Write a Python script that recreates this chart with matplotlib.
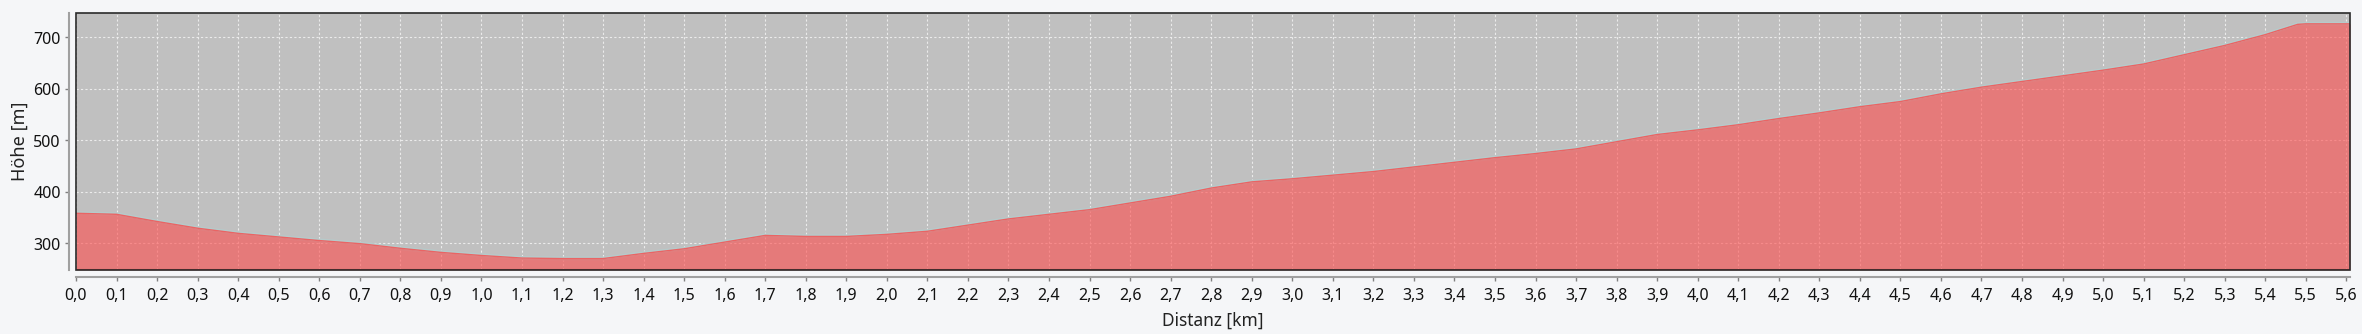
import matplotlib.pyplot as plt
from matplotlib.patches import Rectangle
from matplotlib.ticker import FuncFormatter, MultipleLocator

# Höhenprofil
distanz = [0.0, 0.1, 0.2, 0.3, 0.4, 0.5, 0.6, 0.7, 0.8, 0.9,
           1.0, 1.1, 1.2, 1.3, 1.4, 1.5, 1.6, 1.7, 1.8, 1.9,
           2.0, 2.1, 2.2, 2.3, 2.4, 2.5, 2.6, 2.7, 2.8, 2.9,
           3.0, 3.1, 3.2, 3.3, 3.4, 3.5, 3.6, 3.7, 3.8, 3.9,
           4.0, 4.1, 4.2, 4.3, 4.4, 4.5, 4.6, 4.7, 4.8, 4.9,
           5.0, 5.1, 5.2, 5.3, 5.4, 5.48, 5.5, 5.609]
hoehe = [358, 356, 342, 329, 319, 312, 305, 299, 290, 282,
         276, 271, 270, 270, 280, 289, 302, 315, 313, 313,
         317, 323, 335, 347, 356, 365, 378, 391, 407, 419,
         425, 432, 439, 448, 457, 466, 474, 483, 497, 511,
         520, 530, 542, 553, 565, 575, 590, 603, 614, 625,
         636, 648, 666, 684, 705, 725, 726, 726]

y_min, y_max = 248, 748

plt.rcParams['font.family'] = ['Noto Sans', 'DejaVu Sans']

fig = plt.figure(figsize=(23.62, 3.345), dpi=100, facecolor='#f5f6f8')
ax = fig.add_axes([76 / 2362, 64 / 334, 2274 / 2362, 257 / 334])
ax.set_facecolor('#c0c0c0')

ax.grid(True, color='#f0f0f0', linestyle=(0, (2, 2)), linewidth=0.8, alpha=0.9)
ax.set_axisbelow(True)

ax.plot(distanz, hoehe, color='#b6caca', linewidth=3, zorder=2)
ax.fill_between(distanz, y_min, hoehe, color='#ff4c4c', alpha=0.6,
                linewidth=0, zorder=3)
ax.plot(distanz, hoehe, color='#ea6464', linewidth=1, zorder=4)

ax.set_xlim(0, 5.609)
ax.set_ylim(y_min, y_max)
ax.xaxis.set_major_locator(MultipleLocator(0.1))
ax.yaxis.set_major_locator(MultipleLocator(100))
ax.xaxis.set_major_formatter(FuncFormatter(lambda v, p: f'{v:.1f}'.replace('.', ',')))
ax.yaxis.set_major_formatter(FuncFormatter(lambda v, p: f'{v:.0f}'))

# Rahmen um die Zeichenfläche
ax.add_patch(Rectangle((0, 0), 1, 1, transform=ax.transAxes, fill=False,
                       edgecolor='#2a2a2a', linewidth=1.2, zorder=6, clip_on=False))
ax.axhline(y_min, color='#c83c3c', linewidth=1.5, zorder=5)

for s in ['top', 'right']:
    ax.spines[s].set_visible(False)
for s in ['left', 'bottom']:
    ax.spines[s].set_position(('outward', 5))
    ax.spines[s].set_color('#a0a0a0')
    ax.spines[s].set_linewidth(1.5)

ax.tick_params(axis='both', colors='#808080', labelcolor='#111111',
               labelsize=11.5, length=3, width=1)
ax.tick_params(axis='x', pad=5)
ax.tick_params(axis='y', pad=3)

ax.set_xlabel('Distanz [km]', fontsize=12.5, color='#222222', labelpad=5)
ax.set_ylabel('Höhe [m]', fontsize=13, color='#222222', labelpad=3)

fig.savefig('out.png', dpi=100, facecolor=fig.get_facecolor())
